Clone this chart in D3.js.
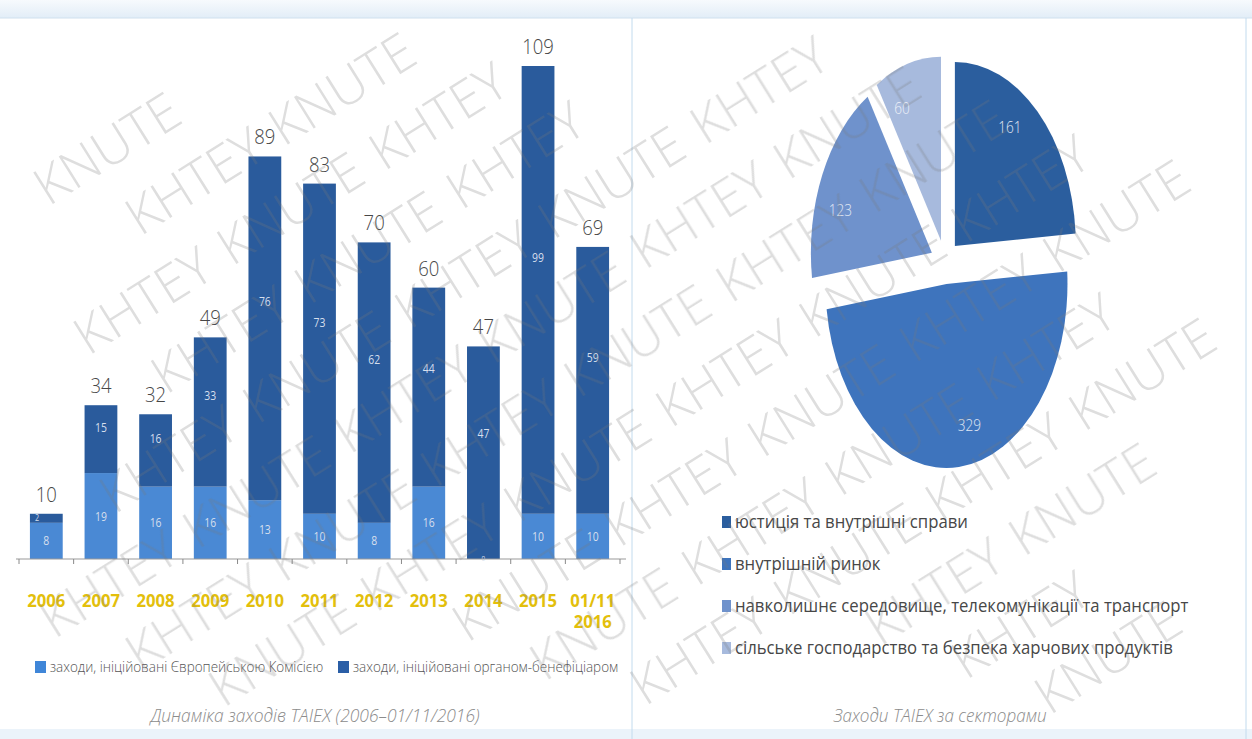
<!DOCTYPE html>
<html>
<head>
<meta charset="utf-8">
<script src="https://cdn.jsdelivr.net/npm/d3@7"></script>
<style>
  body { margin: 0; background: #fff; }
  text { font-family: "Open Sans", "Liberation Sans", sans-serif; }
</style>
</head>
<body>
<div id="chart"></div>
<script>
// bar chart data
const years = ["2006", "2007", "2008", "2009", "2010", "2011", "2012", "2013", "2014", "2015", "01/11 2016"];
const ecValues = [8, 19, 16, 16, 13, 10, 8, 16, 0, 10, 10];
const benValues = [2, 15, 16, 33, 76, 73, 62, 44, 47, 99, 59];
const seriesNames = ["заходи, ініційовані Європейською Комісією", "заходи, ініційовані органом-бенефіціаром"];

// pie data
const sectors = [
  "юстиція та внутрішні справи",
  "внутрішній ринок",
  "навколишнє середовище,  телекомунікації та транспорт",
  "сільське господарство та безпека  харчових продуктів"
];
const sectorValues = [161, 329, 123, 60];

const captions = ["Динаміка заходів TAIEX (2006–01/11/2016)", "Заходи TAIEX за секторами"];
const watermarkWords = ["KNUTE", "KHTEY"];

const width = 1252;
const height = 739;
const barColors = ["#4a89d4", "#2a5b9c"];
const legendColors = ["#3f86d8", "#2a5ea6"];
const pieColors = ["#2b5e9e", "#3e74bd", "#6f92cc", "#a7badd"];

const svg = d3.select("#chart")
  .append("svg")
  .attr("width", width)
  .attr("height", height);

// squeezed text helper (the source uses a condensed face)
const txt = (parent, x, y, s, o) => {
  const g = parent.append("g")
    .attr("transform", `translate(${x},${y}) scale(${o.k || 1},1)`);
  return g.append("text")
    .attr("text-anchor", o.anchor || "middle")
    .attr("font-size", o.size)
    .attr("fill", o.color)
    .attr("font-weight", o.weight || 400)
    .attr("font-style", o.style || "normal")
    .text(s);
};

// page frame: light blue bands and dividers
const defs = svg.append("defs");
const grad = defs.append("linearGradient").attr("id", "band").attr("x1", 0).attr("y1", 0).attr("x2", 0).attr("y2", 1);
grad.append("stop").attr("offset", "0%").attr("stop-color", "#f7fafd");
grad.append("stop").attr("offset", "100%").attr("stop-color", "#e2edf7");
svg.append("rect").attr("x", 0).attr("y", 0).attr("width", width).attr("height", 18).attr("fill", "url(#band)");
svg.append("line").attr("x1", 0).attr("x2", width).attr("y1", 18).attr("y2", 18).attr("stroke", "#cfe0ee");
svg.append("rect").attr("x", 0).attr("y", 729).attr("width", width).attr("height", 10).attr("fill", "#ebf3fa");
svg.append("line").attr("x1", 632).attr("x2", 632).attr("y1", 18).attr("y2", height).attr("stroke", "#c2dbee");
svg.append("line").attr("x1", 1246).attr("x2", 1246).attr("y1", 18).attr("y2", height).attr("stroke", "#c2dbee");

// ---------- stacked bars ----------
const rows = years.map((y, i) => ({ year: y, ec: ecValues[i], ben: benValues[i] }));
const totals = rows.map(d => d.ec + d.ben);
const stack = d3.stack().keys(["ec", "ben"])(rows);

const x = d3.scaleBand()
  .domain(years)
  .range([19, 620])
  .paddingInner(0.4)
  .paddingOuter(0.2);

const y = d3.scaleLinear()
  .domain([0, d3.max(totals)])
  .range([559, 66]);

const bars = svg.append("g");
stack.forEach((layer, li) => {
  bars.selectAll(null)
    .data(layer)
    .join("rect")
    .attr("x", d => x(d.data.year))
    .attr("y", d => y(d[1]))
    .attr("width", x.bandwidth())
    .attr("height", d => y(d[0]) - y(d[1]))
    .attr("fill", barColors[li]);
});

// value labels inside segments
stack.forEach((layer, li) => {
  layer.forEach(d => {
    const h = y(d[0]) - y(d[1]);
    const v = d[1] - d[0];
    let cx = x(d.data.year) + x.bandwidth() / 2;
    let cy = (y(d[0]) + y(d[1])) / 2;
    let anchor = "middle";
    let size = 13;
    if (li === 1 && h >= 14) cy -= 8 + 0.055 * h;
    if (h < 14 && v > 0) { cx = x(d.data.year) + 5; anchor = "start"; size = 9; }
    if (v === 0) { cy = y(0) - 1; size = 8; }
    txt(bars, cx, cy + size * 0.35, v, { size: size, k: 0.8, color: "#d6dfed", anchor: anchor });
  });
});

// totals above bars
rows.forEach((d, i) => {
  txt(bars, x(d.year) + x.bandwidth() / 2, y(totals[i]) - 12, totals[i], { size: 21, k: 0.88, color: "#474747", weight: 300 });
});

// x axis line with ticks at band boundaries
const axis = svg.append("g");
axis.append("line").attr("x1", 16).attr("x2", 626).attr("y1", y(0)).attr("y2", y(0)).attr("stroke", "#9a9a9a").attr("stroke-width", 1.2);
const bounds = years.map(yr => x(yr) - x.step() * 0.2).concat([x(years[years.length - 1]) + x.step() * 0.8]);
axis.selectAll("line.tick")
  .data(bounds)
  .join("line")
  .attr("class", "tick")
  .attr("x1", d => d).attr("x2", d => d)
  .attr("y1", y(0)).attr("y2", y(0) + 5)
  .attr("stroke", "#8a8a8a");

// year labels (gold)
years.forEach(yr => {
  yr.split(" ").forEach((part, j) => {
    txt(axis, x(yr) + x.bandwidth() / 2, 607 + j * 21, part, { size: 17, k: 0.98, color: "#e3bf0c", weight: 700 });
  });
});

// left legend
const legL = svg.append("g");
[[35, 0], [338, 1]].forEach(([lx, i]) => {
  legL.append("rect").attr("x", lx).attr("y", 661).attr("width", 11).attr("height", 12).attr("fill", legendColors[i]);
  txt(legL, lx + 15, 672, seriesNames[i], { size: 15, k: 0.9, color: "#555", anchor: "start", weight: 300 });
});
txt(svg, 315, 722, captions[0], { size: 18, k: 0.97, color: "#8c8c8c", style: "italic", weight: 300 });

// ---------- exploded pie ----------
const R = 184;
const sx = 121 / R;
const cx0 = 945;
const cy0 = 262;
const explode = 22;
const pie = d3.pie().sort(null).value(d => d)(sectorValues);
const arc = d3.arc().innerRadius(0).outerRadius(R);

const pieG = svg.append("g").attr("transform", `translate(${cx0},${cy0}) scale(${sx},1)`);
pieG.selectAll("path")
  .data(pie)
  .join("path")
  .attr("d", arc)
  .attr("fill", (d, i) => pieColors[i])
  .attr("transform", d => {
    const m = (d.startAngle + d.endAngle) / 2;
    return `translate(${Math.sin(m) * explode},${-Math.cos(m) * explode})`;
  });

pie.forEach((d, i) => {
  const m = (d.startAngle + d.endAngle) / 2;
  const a = m - 8 * Math.PI / 180;
  const r = R * 0.79;
  const px = cx0 + sx * (Math.sin(a) * r + Math.sin(m) * explode);
  const py = cy0 - (Math.cos(a) * r + Math.cos(m) * explode);
  txt(svg, px, py + 6, d.data, { size: 17, k: 0.8, color: i === 3 ? "#eef1f8" : "#e2e9f4", weight: 300 });
});

// right legend
const legR = svg.append("g");
sectors.forEach((s, i) => {
  const ly = 522 + i * 42;
  legR.append("rect").attr("x", 722).attr("y", ly - 6).attr("width", 9).attr("height", 12).attr("fill", pieColors[i]);
  txt(legR, 735, ly + 6, s, { size: 19, k: 0.88, color: "#474747", anchor: "start" });
});
txt(svg, 940, 722, captions[1], { size: 18, k: 0.95, color: "#8c8c8c", style: "italic", weight: 300 });

// ---------- watermark (only whole words that fit the page) ----------
const wm = svg.append("g")
  .attr("opacity", 0.25)
  .style("pointer-events", "none");
const ang = -32 * Math.PI / 180;
const ux = Math.cos(ang), uy = Math.sin(ang);
const vx = -uy, vy = ux;
const rowGap = 74, capH = 40, pad = 5;
d3.range(-14, 15).forEach(r => {
  let along = -1100 + (((r % 3) + 3) % 3) * 62;
  let w = Math.abs(r) % 2;
  while (along < 1100) {
    const px = width / 2 + ux * along + vx * r * rowGap;
    const py = height / 2 + uy * along + vy * r * rowGap;
    const t = wm.append("text")
      .attr("transform", `translate(${px},${py}) rotate(-32)`)
      .attr("font-size", 52)
      .attr("font-family", "Inter, 'DejaVu Sans', sans-serif")
      .attr("font-weight", 100)
      .attr("fill", "#7a7a7a")
      .text(watermarkWords[w % 2]);
    const L = t.node().getComputedTextLength();
    const corners = [[-pad, pad], [L + pad, pad], [-pad, -capH - pad], [L + pad, -capH - pad]]
      .map(([lx, ly]) => [px + lx * ux + ly * vx, py + lx * uy + ly * vy]);
    const inside = corners.every(([qx, qy]) => qx > 0 && qx < width && qy > 20 && qy < height);
    if (!inside) t.remove();
    along += L + 18;
    w += 1;
  }
});
</script>
</body>
</html>
